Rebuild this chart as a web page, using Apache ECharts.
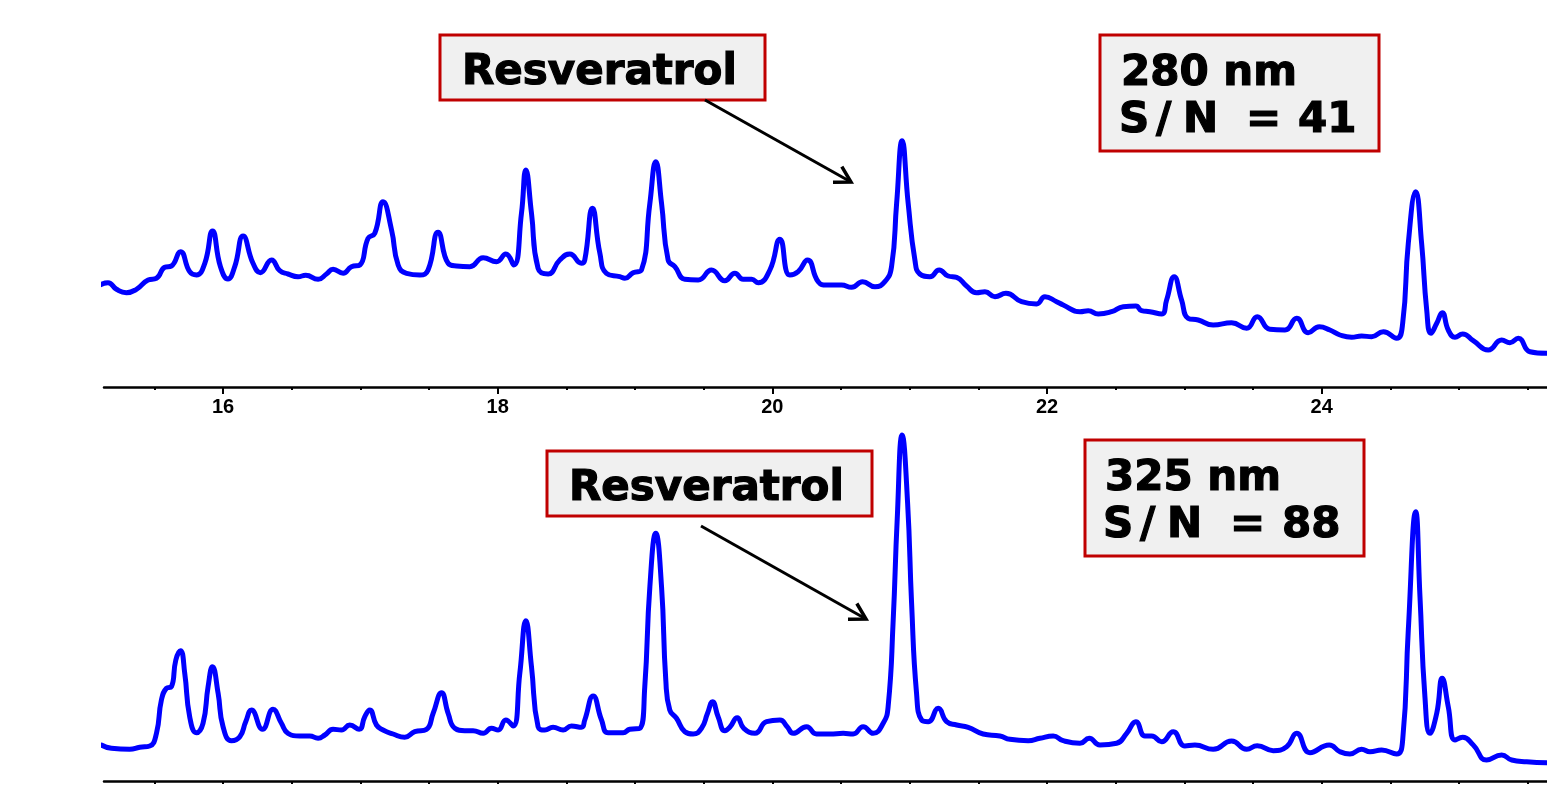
<!DOCTYPE html>
<html><head><meta charset="utf-8">
<script src="https://cdn.jsdelivr.net/npm/echarts@6/dist/echarts.min.js"></script>
<style>html,body{margin:0;padding:0;background:#fff;overflow:hidden}#c{width:1547px;height:793px;}</style>
</head><body><div id="c"></div>
<script>
// Retention time (min) and detector signal (arbitrary units), 280 nm trace
const time280 = [15.102,15.162,15.224,15.296,15.369,15.454,15.515,15.575,15.624,15.690,15.757,15.806,15.867,15.923,15.981,16.036,16.085,16.146,16.218,16.272,16.353,16.413,16.473,16.546,16.602,16.692,16.753,16.801,16.874,16.935,16.996,17.056,17.105,17.165,17.227,17.275,17.336,17.433,17.493,17.566,17.639,17.700,17.797,17.894,17.991,18.059,18.117,18.173,18.205,18.246,18.294,18.367,18.452,18.525,18.610,18.634,18.690,18.744,18.792,18.889,18.926,18.986,19.047,19.108,19.151,19.193,19.241,19.290,19.363,19.460,19.557,19.654,19.727,19.787,19.849,19.897,19.982,20.055,20.127,20.188,20.256,20.334,20.395,20.504,20.577,20.657,20.747,20.819,20.868,20.905,20.945,20.989,21.038,21.074,21.147,21.215,21.280,21.342,21.414,21.487,21.548,21.621,21.701,21.815,21.924,21.985,22.070,22.118,22.240,22.300,22.373,22.470,22.555,22.647,22.689,22.749,22.835,22.871,22.926,22.980,23.028,23.101,23.210,23.344,23.454,23.531,23.623,23.733,23.818,23.902,23.983,24.060,24.133,24.219,24.291,24.364,24.449,24.546,24.590,24.631,24.685,24.728,24.765,24.796,24.838,24.878,24.922,24.971,25.027,25.104,25.213,25.311,25.371,25.432,25.517,25.639];
const signal280 = [102,104.3,97.7,94.3,97.7,107,108.7,119.7,121,135.3,115.3,112,123.7,156,120.3,108,120.3,151,123.7,114.3,127,116.3,113,110.3,111.7,107.7,113,117.7,113.7,120.3,122,148.7,153.7,185.3,157,122,113.7,112,117,154.7,123.7,121,120.3,129.3,125.3,133,122,173.7,217,173.7,118.7,113,127,133,123.7,127,178.7,133.7,113.7,110.3,108.7,114.3,117,183.7,225.3,183.7,127,120.3,107.7,107,117,106.3,113.7,107.7,107.7,104.3,117,147.7,112,115.3,127,105.3,102,102,99.7,105.3,100.3,105.3,120.3,183.7,246.3,183.7,127,113,110.3,117,111,109.7,101,94.3,95.3,90.3,93.7,85.3,83,90.3,85.3,82,75.3,76.3,73,75.3,80.3,81,76.3,75.3,73,87,110.3,87,68.7,67,62,64.3,58.7,70.3,57.7,57,68.7,54.3,60.3,57,52,49.7,51,50.3,55.3,48.7,63.7,143.7,195.3,143.7,77,53.7,63.7,74.3,57,49.7,53,46.3,37,47,44.3,48.7,35.3,33.7];

// 325 nm trace
const time325 = [15.114,15.187,15.320,15.393,15.466,15.515,15.551,15.588,15.624,15.656,15.690,15.721,15.757,15.806,15.854,15.891,15.923,15.964,16.000,16.061,16.122,16.165,16.207,16.287,16.364,16.425,16.473,16.559,16.631,16.692,16.741,16.801,16.862,16.923,16.991,17.032,17.068,17.117,17.165,17.238,17.323,17.396,17.481,17.530,17.591,17.639,17.688,17.760,17.821,17.894,17.955,18.003,18.059,18.112,18.161,18.205,18.246,18.294,18.343,18.403,18.476,18.537,18.610,18.634,18.695,18.756,18.804,18.913,18.962,19.035,19.071,19.108,19.151,19.193,19.224,19.253,19.302,19.363,19.423,19.484,19.528,19.564,19.605,19.654,19.690,19.744,19.792,19.873,19.958,20.055,20.108,20.151,20.249,20.322,20.419,20.516,20.588,20.661,20.734,20.807,20.843,20.880,20.909,20.945,20.985,21.014,21.050,21.087,21.135,21.208,21.269,21.342,21.426,21.535,21.657,21.730,21.863,21.948,22.045,22.118,22.240,22.307,22.385,22.507,22.580,22.647,22.713,22.762,22.835,22.919,23.004,23.077,23.210,23.344,23.454,23.531,23.647,23.745,23.818,23.915,24.055,24.133,24.206,24.291,24.352,24.437,24.546,24.590,24.631,24.685,24.716,24.752,24.789,24.838,24.878,24.922,24.971,25.027,25.104,25.201,25.311,25.384,25.493,25.639];
const signal325 = [36,32.7,31.7,33.7,35,47.7,81,92.7,94.3,121,130.3,107.7,64.3,48.3,57.7,94.3,114.3,87.7,54.3,40.3,44.3,59.3,71,51.7,71.7,57.7,47.7,45,45,42.7,46,51.7,51,56,51.7,64.3,71,56,51,47,43.7,49.3,51.7,67.7,88.3,67.7,52.7,50.3,50.3,47.7,52.7,51,61,55,107.7,160.3,114.3,54.3,51,53.7,51,55,53.7,61,85,61,48.3,48.3,51.7,52.7,94.3,194.3,247.7,194.3,101,71,62.7,49.3,47,52.7,67.7,79.3,64.3,50.3,53.7,63.3,52.7,47.7,59.3,61,54.3,47.7,54.3,47,47,47.7,47,54.3,47.7,57.7,74.3,161,261,346,277.7,177.7,87.7,61,59.3,72.7,59.3,56,53.7,47,45,41.7,40.3,42.7,45,40.3,37.7,42.7,36,37.7,47.7,59.3,45,45,39.3,49.3,35,36,31.7,40,31.7,35.3,30.3,34.3,47.7,28.3,36,29.3,27,31.7,29.3,31,27,41,151,269.3,184.3,84.3,47.7,67.7,102.7,74.3,41,43.7,36,21,26,21,19.3,18.3];

// Axis tick values (min)
const majorTicks = [16, 18, 20, 22, 24];
const minorTicks = [15.5,16,16.5,17,17.5,18,18.5,19,19.5,20,20.5,21,21.5,22,22.5,23,23.5,24,24.5,25,25.5];

// Annotation texts
const peakName = 'Resveratrol';
const panel280 = ['280 nm', 'S', '/', 'N', '=', '41'];
const panel325 = ['325 nm', 'S', '/', 'N', '=', '88'];

const X_MIN = 15.133, X_MAX = 25.641, Y_MAX = 387;

function pairs(t, v) { return t.map((x, i) => [x, v[i]]); }

function mainAxis(grid, showLabels) {
  return {
    type: 'value', gridIndex: grid, min: X_MIN, max: X_MAX,
    axisLine: { show: true, onZero: false, lineStyle: { color: '#000', width: 2.5 } },
    axisTick: { show: true, customValues: minorTicks, length: 3, lineStyle: { color: '#000', width: 2 } },
    axisLabel: { show: showLabels, customValues: majorTicks, margin: 10,
      fontFamily: 'Liberation Sans', fontWeight: 'bold', fontSize: 20, color: '#000' },
    splitLine: { show: false }
  };
}
function majorAxis(grid) {
  return {
    type: 'value', gridIndex: grid, min: X_MIN, max: X_MAX,
    axisLine: { show: false, onZero: false },
    axisTick: { show: true, customValues: majorTicks, length: 6, lineStyle: { color: '#000', width: 2 } },
    axisLabel: { show: false },
    splitLine: { show: false }
  };
}
function yAx(grid) {
  return { type: 'value', gridIndex: grid, min: 0, max: Y_MAX, show: false, splitLine: { show: false } };
}
function trace(data, xi, yi) {
  return {
    type: 'line', xAxisIndex: xi, yAxisIndex: yi, data: data,
    showSymbol: false, smooth: 0.5, clip: false,
    lineStyle: { color: '#0000ff', width: 5, join: 'round', cap: 'round' },
    silent: true, animation: false
  };
}

const FONT = 'bold 42px "DejaVu Sans"';
function box(x, y, w, h) {
  return { type: 'rect', z: 100, shape: { x: x, y: y, width: w, height: h },
    style: { fill: '#f0f0f0', stroke: '#c00000', lineWidth: 3 } };
}
function txt(s, x, y) {
  return { type: 'text', z: 101, x: x, y: y,
    style: { text: s, font: FONT, fill: '#000', stroke: '#000', lineWidth: 1.2,
      align: 'left', verticalAlign: 'middle' } };
}
function arrow(x1, y1, x2, y2) {
  const dx = x2 - x1, dy = y2 - y1, L = Math.hypot(dx, dy);
  const ux = dx / L, uy = dy / L, a = Math.PI / 6, h = 18;
  const c = Math.cos(a), s = Math.sin(a);
  const b1 = [x2 - h * (ux * c - uy * s), y2 - h * (ux * s + uy * c)];
  const b2 = [x2 - h * (ux * c + uy * s), y2 - h * (-ux * s + uy * c)];
  return [
    { type: 'line', z: 100, shape: { x1: x1, y1: y1, x2: x2, y2: y2 }, style: { stroke: '#000', lineWidth: 3 } },
    { type: 'polyline', z: 100, shape: { points: [b1, [x2, y2], b2] }, style: { stroke: '#000', lineWidth: 3.5, fill: null } }
  ];
}
// glyph offsets for the S/N line
const snOffsets = [-2, 35, 62, 125, 177];
function panel(lines, x, y) {
  const out = [txt(lines[0], x, y)];
  for (let i = 0; i < snOffsets.length; i++) out.push(txt(lines[i + 1], x + snOffsets[i], y + 47));
  return out;
}

const chart = echarts.init(document.getElementById('c'), null, { renderer: 'canvas' });
chart.setOption({
  animation: false,
  backgroundColor: '#ffffff',
  grid: [
    { left: 104, right: 0, top: 0, height: 387, containLabel: false },
    { left: 104, right: 0, top: 394, height: 387, containLabel: false }
  ],
  xAxis: [mainAxis(0, true), majorAxis(0), mainAxis(1, false), majorAxis(1)],
  yAxis: [yAx(0), yAx(1)],
  series: [
    trace(pairs(time280, signal280), 0, 0),
    trace(pairs(time325, signal325), 2, 1)
  ],
  graphic: [].concat(
    [box(440, 35, 325, 65), txt(peakName, 462, 73)],
    arrow(705, 100, 851, 182),
    [box(1100, 35, 279, 116)], panel(panel280, 1121, 74),
    [box(547, 451, 325, 65), txt(peakName, 569, 489)],
    arrow(701, 526, 866, 619),
    [box(1085, 440, 279, 116)], panel(panel325, 1105, 479)
  )
});
</script>
</body></html>
